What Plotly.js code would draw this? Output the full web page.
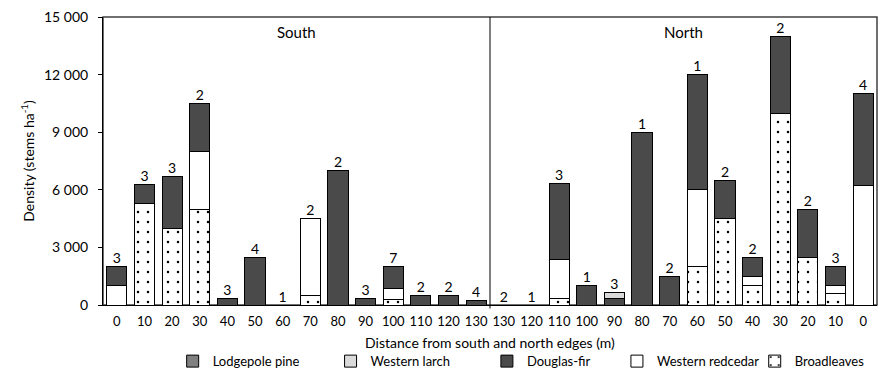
<!DOCTYPE html>
<html>
<head>
<meta charset="utf-8">
<script src="https://cdn.plot.ly/plotly-3.0.1.min.js"></script>
<style>html,body{margin:0;padding:0;background:#fff;}#chart{width:883px;height:383px;}</style>
</head>
<body>
<div id="chart"></div>
<script>
// Category tick labels (south edge 0..130, then north edge 130..0)
const tickLabels = ['0','10','20','30','40','50','60','70','80','90','100','110','120','130',
                    '130','120','110','100','90','80','70','60','50','40','30','20','10','0'];
// Densities (stems/ha) per species
const broadleaves = [0,5300,4000,5000,0,0,0,500,0,0,300,0,0,0,
                     0,0,350,0,0,0,0,2000,4500,1000,10000,2500,600,0];
const redcedar    = [1000,0,0,3000,0,0,0,4000,0,0,550,0,0,0,
                     0,0,2000,0,0,0,0,4000,0,500,0,0,400,6250];
const douglasFir  = [1000,1000,2700,2500,350,2500,0,0,7000,350,1150,500,500,220,
                     0,0,4000,1000,350,9000,1500,6000,2000,1000,4000,2500,1000,4750];
const larch       = [0,0,0,0,0,0,0,0,0,0,0,0,0,0,
                     0,0,0,0,300,0,0,0,0,0,0,0,0,0];
const lodgepole   = [0,0,0,0,0,0,0,0,0,0,0,0,0,0,
                     0,0,0,0,0,0,0,0,0,0,0,0,0,0];
// Sample counts shown above bars
const counts = [3,3,3,2,3,4,1,2,2,3,7,2,2,4,
                2,1,3,1,3,1,2,1,2,2,2,2,3,4];

const x = tickLabels.map((_, i) => i);
const totals = x.map(i => broadleaves[i] + redcedar[i] + douglasFir[i] + larch[i] + lodgepole[i]);
const FONT = 'Lato, "Open Sans", sans-serif';
const outline = {color: '#000', width: 1};

const traces = [
  {type:'bar', name:'Broadleaves', x, y: broadleaves, legend:'legend5',
   marker:{color:'#fff', line:outline, pattern:{shape:'.', fgcolor:'#000', bgcolor:'#fff', size:10, solidity:0.05}}},
  {type:'bar', name:'Western redcedar', x, y: redcedar, legend:'legend4',
   marker:{color:'#fff', line:outline}},
  {type:'bar', name:'Douglas-fir', x, y: douglasFir, legend:'legend3',
   marker:{color:'#4a4a4a', line:outline}},
  {type:'bar', name:'Western larch', x, y: larch, legend:'legend2',
   marker:{color:'#dadada', line:outline}},
  {type:'bar', name:'Lodgepole pine', x, y: lodgepole, legend:'legend',
   marker:{color:'#808080', line:outline}},
  {type:'scatter', mode:'text', x, y: totals, text: counts.map(String),
   textposition:'top center', textfont:{family:FONT, size:14, color:'#000'},
   showlegend:false, hoverinfo:'skip', cliponaxis:false}
];

const legBase = {orientation:'h', yanchor:'middle', y:-0.195, xanchor:'left',
  font:{family:FONT, size:13, color:'#000'}, bgcolor:'rgba(0,0,0,0)', itemwidth:30};

const layout = {
  width:883, height:383,
  margin:{l:103, r:6, t:17, b:78},
  barmode:'stack', bargap:0.27,
  separators:'. ',
  font:{family:FONT, size:14, color:'#000'},
  paper_bgcolor:'#fff', plot_bgcolor:'#fff',
  xaxis:{
    range:[-0.5, 27.5], tickmode:'array', tickvals:x, ticktext:tickLabels,
    showgrid:false, zeroline:false, showline:true, linecolor:'#000', linewidth:1,
    ticks:'', ticklabelstandoff:4, tickfont:{family:FONT, size:13}, fixedrange:true,
    title:{text:'Distance from south and north edges (m)', font:{family:FONT, size:14}, standoff:10}
  },
  yaxis:{
    range:[0, 15000], tickvals:[0,3000,6000,9000,12000,15000], tickformat:',d',
    showgrid:false, zeroline:false, showline:true, linecolor:'#000', linewidth:1,
    ticks:'outside', ticklen:4, tickcolor:'#000', ticklabelstandoff:7, tickfont:{family:FONT, size:14},
    title:{text:'Density (stems ha<sup>-1</sup>)', font:{family:FONT, size:14}, standoff:6}
  },
  shapes:[
    {type:'rect', xref:'paper', yref:'paper', x0:0, x1:1, y0:0, y1:1, line:{color:'#404040', width:1.5}, layer:'below'},
    {type:'line', xref:'x', yref:'paper', x0:13.5, x1:13.5, y0:-0.012, y1:1, line:{color:'#000', width:1}}
  ],
  annotations:[
    {xref:'x', yref:'paper', x:6.5, y:0.985, yanchor:'top', text:'South', showarrow:false, font:{family:FONT, size:15}},
    {xref:'x', yref:'paper', x:20.5, y:0.985, yanchor:'top', text:'North', showarrow:false, font:{family:FONT, size:15}}
  ],
  legend: Object.assign({}, legBase, {x:0.09}),
  legend2: Object.assign({}, legBase, {x:0.294}),
  legend3: Object.assign({}, legBase, {x:0.496}),
  legend4: Object.assign({}, legBase, {x:0.664}),
  legend5: Object.assign({}, legBase, {x:0.842}),
  showlegend:true
};

Plotly.newPlot('chart', traces, layout, {displayModeBar:false, staticPlot:true});
</script>
</body>
</html>
